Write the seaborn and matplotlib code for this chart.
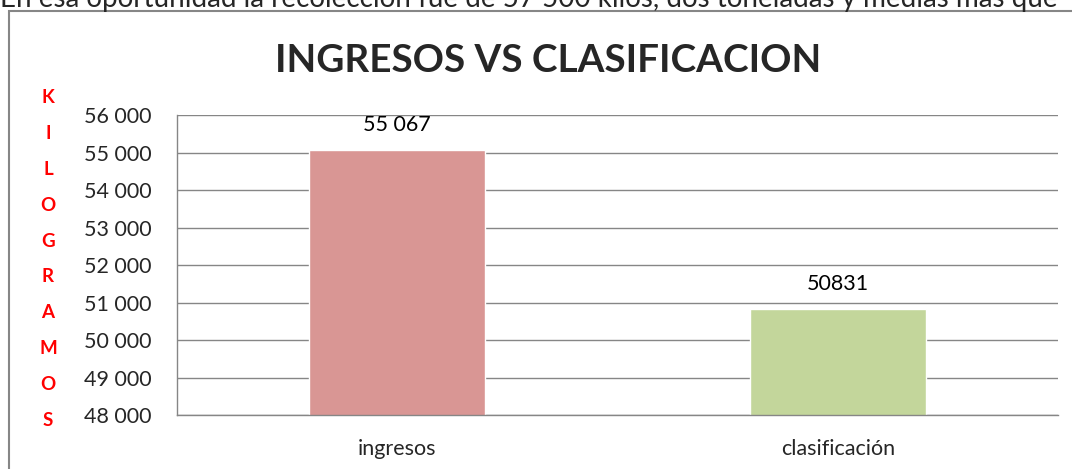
import matplotlib
matplotlib.use("Agg")
import matplotlib.pyplot as plt
import matplotlib.ticker as mticker
from matplotlib.patches import Rectangle
import seaborn as sns

# %%
categories = ["ingresos", "clasificación"]
kilos = [55067, 50831]
value_labels = ["55 067", "50831"]
bar_colors = ["#D99694", "#C3D69B"]
y_ticks = [48000, 49000, 50000, 51000, 52000, 53000, 54000, 55000, 56000]
title = "INGRESOS VS CLASIFICACION"
ylabel_letters = "KILOGRAMOS"
top_text = "En esa oportunidad la recolección fue de 57 500 kilos, dos toneladas y medias más que"

# %%
sns.set_style("white")
plt.rcParams["font.family"] = ["Lato", "DejaVu Sans"]
grey = "#868686"

fig = plt.figure(figsize=(10.72, 4.69), dpi=100)
ax = fig.add_axes([177 / 1072, 54 / 469, 881 / 1072, 300 / 469])

sns.barplot(x=categories, y=kilos, hue=categories, palette=bar_colors,
            legend=False, width=0.4, saturation=1, ax=ax)

for cont, lab in zip(ax.containers, value_labels):
    ax.bar_label(cont, labels=[lab], padding=10.5, fontsize=15.5, color="black")

ax.set_ylim(48000, 56000)
ax.set_xlim(-0.5, 1.5)
ax.set_yticks(y_ticks)
ax.yaxis.set_major_formatter(mticker.FuncFormatter(lambda v, p: f"{v:,.0f}".replace(",", " ")))
ax.tick_params(axis="y", length=8, width=1, color=grey, pad=10, labelsize=15.5, direction="out")
ax.tick_params(axis="x", which="major", length=0, pad=17, labelsize=15.5)
ax.set_xticks([-0.5, 0.5, 1.5], minor=True)
ax.tick_params(axis="x", which="minor", length=7, width=1, color=grey, direction="out")
ax.yaxis.grid(True, color=grey, linewidth=1)
ax.set_axisbelow(True)

for s in ["top", "right"]:
    ax.spines[s].set_visible(False)
for s in ["left", "bottom"]:
    ax.spines[s].set_color(grey)
    ax.spines[s].set_linewidth(1)

ax.set_ylabel("\n".join(ylabel_letters), rotation=0, color="red", fontsize=13.5,
              fontweight="bold", linespacing=2.35, labelpad=0, va="center", ha="center")
ax.yaxis.set_label_coords(-129 / 881, 0.52)

fig.text(548 / 1072, 1 - 72 / 469, title, ha="center", va="baseline",
         fontsize=27.8, fontweight="bold")
fig.text(0, 1 - 7 / 469, top_text, ha="left", va="baseline", fontsize=20)

top = 1 - 11 / 469
fig.patches.append(Rectangle((9 / 1072, -0.2), 1.2, top + 0.2,
                             transform=fig.transFigure, fill=False,
                             edgecolor=grey, linewidth=1.5))

fig.savefig("out.png", dpi=100)
